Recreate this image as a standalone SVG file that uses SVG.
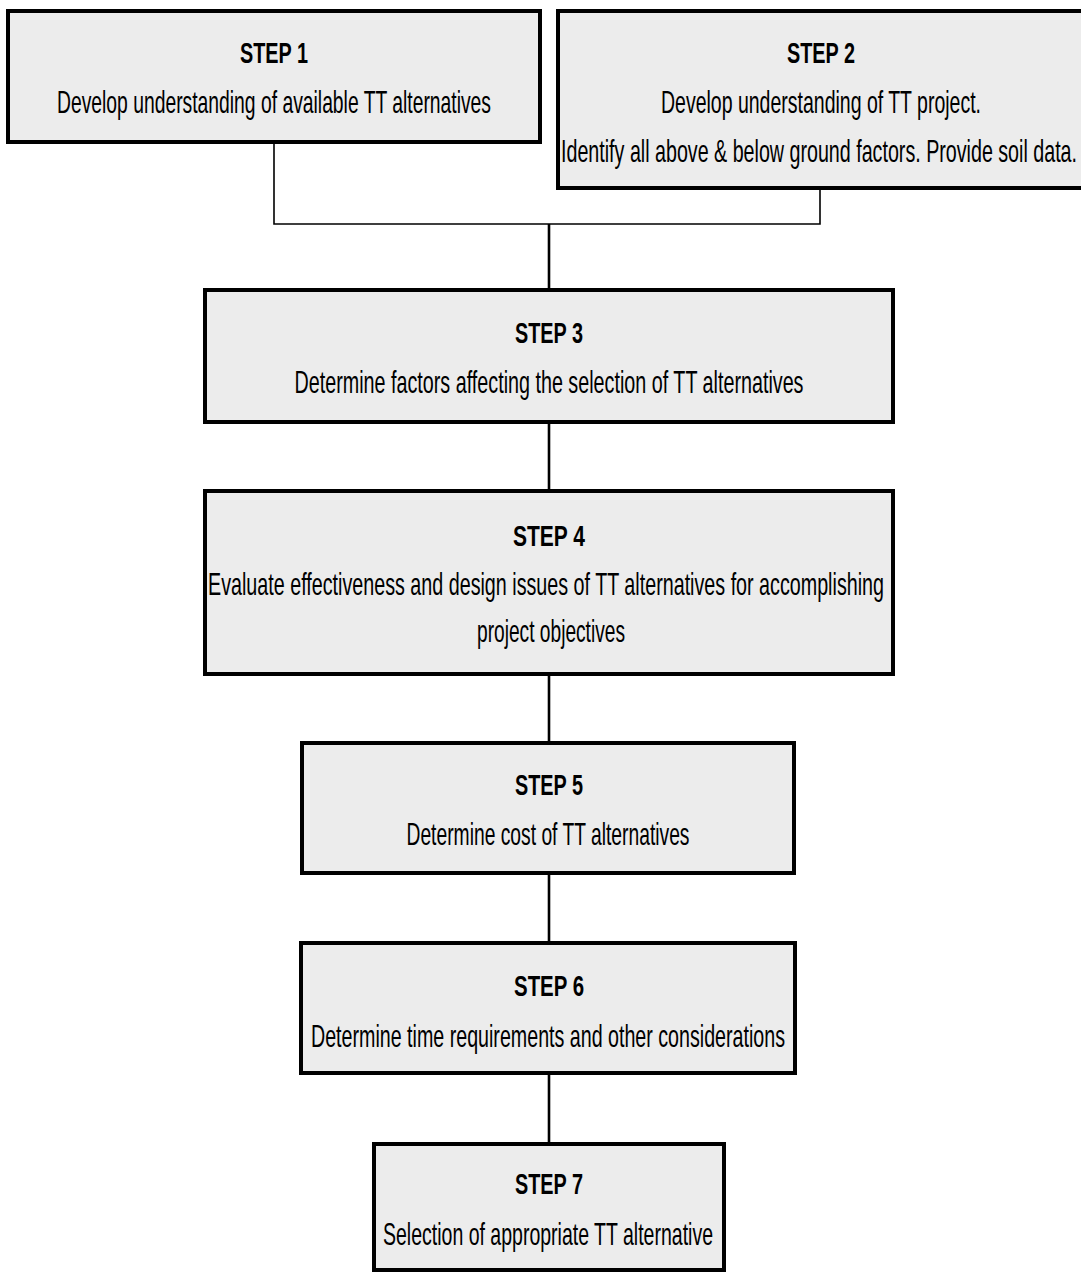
<svg xmlns="http://www.w3.org/2000/svg" width="1081" height="1272" viewBox="0 0 1081 1272">
  <style>
    .box { fill: #ececec; stroke: #000; stroke-width: 4; }
    .t { font-family: "Liberation Sans", Arial, sans-serif; font-weight: bold; font-size: 20px; fill: #000; text-anchor: middle; }
    .b { font-family: "Liberation Sans", Arial, sans-serif; font-size: 19.2px; fill: #000; text-anchor: middle; }
    .thin { fill: none; stroke: #000; stroke-width: 1.6; }
    .thick { fill: none; stroke: #000; stroke-width: 2.6; }
  </style>
  <rect width="1081" height="1272" fill="#fff"/>
  <g id="connectors">
    <polyline class="thin" points="274,142 274,224 820,224 820,188"/>
    <line class="thick" x1="549" y1="224" x2="549" y2="290"/>
    <line class="thick" x1="549" y1="422" x2="549" y2="491"/>
    <line class="thick" x1="549" y1="674" x2="549" y2="743"/>
    <line class="thick" x1="549" y1="873" x2="549" y2="943"/>
    <line class="thick" x1="549" y1="1073" x2="549" y2="1144"/>
  </g>
  <g id="step1">
    <rect class="box" x="8" y="11" width="532" height="131"/>
    <text class="t" transform="translate(274,63) scale(1,1.5)" textLength="68" lengthAdjust="spacingAndGlyphs">STEP 1</text>
    <text class="b" transform="translate(274,113) scale(1,1.667)" textLength="434" lengthAdjust="spacingAndGlyphs">Develop understanding of available TT alternatives</text>
  </g>
  <g id="step2">
    <rect class="box" x="558" y="11" width="540" height="177"/>
    <text class="t" transform="translate(821,63) scale(1,1.5)" textLength="68" lengthAdjust="spacingAndGlyphs">STEP 2</text>
    <text class="b" transform="translate(821,113) scale(1,1.667)" textLength="320" lengthAdjust="spacingAndGlyphs">Develop understanding of TT project.</text>
    <text class="b" transform="translate(819,162) scale(1,1.667)" textLength="516" lengthAdjust="spacingAndGlyphs">Identify all above &amp; below ground factors. Provide soil data.</text>
  </g>
  <g id="step3">
    <rect class="box" x="205" y="290" width="688" height="132"/>
    <text class="t" transform="translate(549,343) scale(1,1.5)" textLength="68" lengthAdjust="spacingAndGlyphs">STEP 3</text>
    <text class="b" transform="translate(549,393) scale(1,1.667)" textLength="509" lengthAdjust="spacingAndGlyphs">Determine factors affecting the selection of TT alternatives</text>
  </g>
  <g id="step4">
    <rect class="box" x="205" y="491" width="688" height="183"/>
    <text class="t" transform="translate(549,546) scale(1,1.5)" textLength="72" lengthAdjust="spacingAndGlyphs">STEP 4</text>
    <text class="b" transform="translate(546,595) scale(1,1.667)" textLength="676" lengthAdjust="spacingAndGlyphs">Evaluate effectiveness and design issues of TT alternatives for accomplishing</text>
    <text class="b" transform="translate(551,642) scale(1,1.667)" textLength="148" lengthAdjust="spacingAndGlyphs">project objectives</text>
  </g>
  <g id="step5">
    <rect class="box" x="302" y="743" width="492" height="130"/>
    <text class="t" transform="translate(549,795) scale(1,1.5)" textLength="68" lengthAdjust="spacingAndGlyphs">STEP 5</text>
    <text class="b" transform="translate(548,845) scale(1,1.667)" textLength="283" lengthAdjust="spacingAndGlyphs">Determine cost of TT alternatives</text>
  </g>
  <g id="step6">
    <rect class="box" x="301" y="943" width="494" height="130"/>
    <text class="t" transform="translate(549,996) scale(1,1.5)" textLength="70" lengthAdjust="spacingAndGlyphs">STEP 6</text>
    <text class="b" transform="translate(548,1047) scale(1,1.667)" textLength="474" lengthAdjust="spacingAndGlyphs">Determine time requirements and other considerations</text>
  </g>
  <g id="step7">
    <rect class="box" x="374" y="1144" width="350" height="126"/>
    <text class="t" transform="translate(549,1194) scale(1,1.5)" textLength="68" lengthAdjust="spacingAndGlyphs">STEP 7</text>
    <text class="b" transform="translate(548,1245) scale(1,1.667)" textLength="330" lengthAdjust="spacingAndGlyphs">Selection of appropriate TT alternative</text>
  </g>
</svg>
